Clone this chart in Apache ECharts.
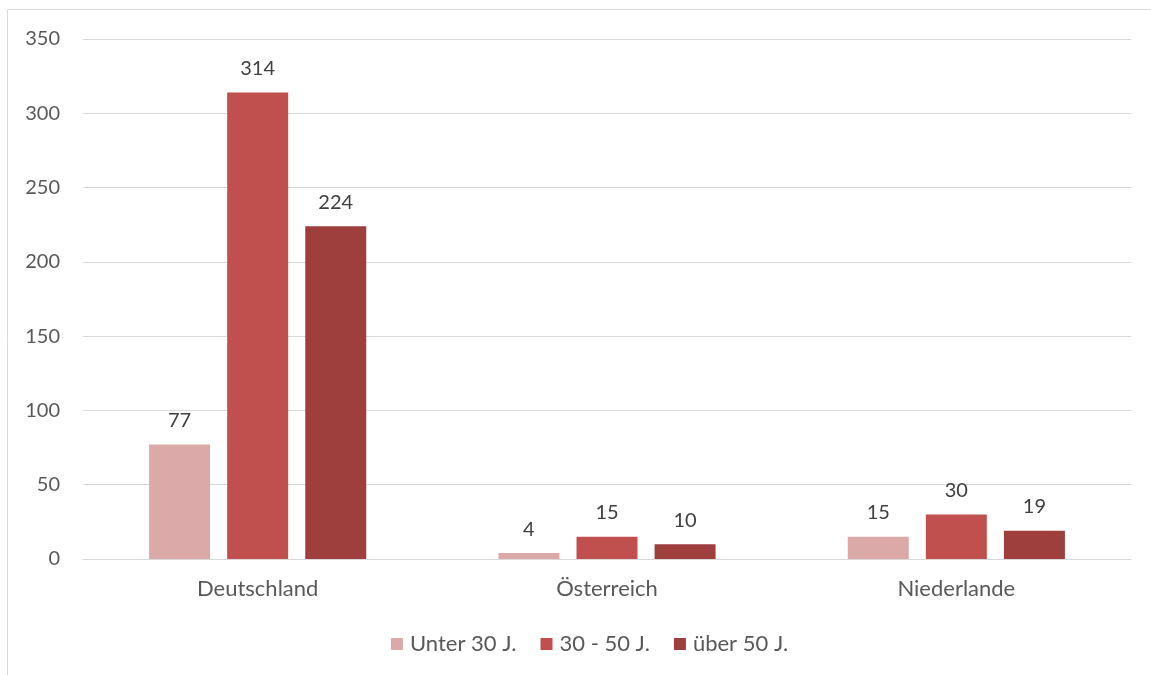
<!DOCTYPE html>
<html><head><meta charset="utf-8">
<script src="https://cdn.jsdelivr.net/npm/echarts@6/dist/echarts.min.js"></script>
<style>html,body{margin:0;padding:0;background:#fff}#c{width:1151px;height:675px}</style>
</head><body><div id="c"></div>
<script>
const categories = ['Deutschland', 'Österreich', 'Niederlande'];
const seriesNames = ['Unter 30 J.', '30 - 50 J.', 'über 50 J.'];
const under30 = [77, 4, 15];
const mid30to50 = [314, 15, 30];
const over50 = [224, 10, 19];
const yTicks = [0, 50, 100, 150, 200, 250, 300, 350];
const colors = ['#DBA9A8', '#C0504D', '#9E3F3E'];

const font = 'Lato, "Open Sans", sans-serif';
const txt = '#595959';
const chart = echarts.init(document.getElementById('c'));
const data = [under30, mid30to50, over50];
chart.setOption({
  animation: false,
  textStyle: { fontFamily: font },
  graphic: [{ type: 'rect', shape: { x: 7.5, y: 9.5, width: 1200, height: 700 }, style: { fill: 'none', stroke: '#d9d9d9', lineWidth: 1 }, silent: true }],
  grid: { left: 83, right: 20, top: 39, bottom: 116, containLabel: false },
  legend: {
    bottom: 15, left: 386, itemWidth: 12, itemHeight: 12, itemGap: 24,
    icon: 'rect',
    textStyle: { color: txt, fontSize: 22, fontFamily: font, padding: [0, 0, 0, 2] },
    data: seriesNames
  },
  xAxis: {
    type: 'category', data: categories,
    axisLine: { lineStyle: { color: '#d9d9d9' } },
    axisTick: { show: false },
    axisLabel: { color: txt, fontSize: 22, margin: 19, fontFamily: font }
  },
  yAxis: {
    type: 'value', min: yTicks[0], max: yTicks[yTicks.length - 1], interval: 50,
    axisLine: { show: false }, axisTick: { show: false },
    splitLine: { lineStyle: { color: '#d9d9d9', width: 1 } },
    axisLabel: { color: txt, fontSize: 20, margin: 23, fontFamily: font }
  },
  series: seriesNames.map((n, i) => ({
    name: n, type: 'bar', data: data[i], barWidth: 61, barGap: '28%',
    itemStyle: { color: colors[i] },
    label: { show: true, position: 'top', distance: 14, color: '#404040', fontSize: 20, fontFamily: font }
  }))
});
</script></body></html>
